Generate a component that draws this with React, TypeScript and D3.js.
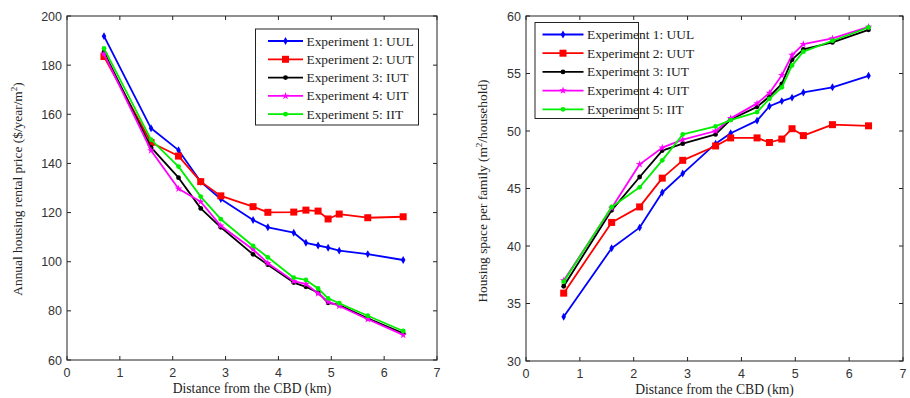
import React from "react";
import * as d3 from "d3";

const distance = [0.7, 1.59, 2.11, 2.53, 2.91, 3.52, 3.8, 4.29, 4.52, 4.75, 4.94, 5.15, 5.69, 6.36];

const seriesNames = [
  "Experiment 1: UUL",
  "Experiment 2: UUT",
  "Experiment 3: IUT",
  "Experiment 4: UIT",
  "Experiment 5: IIT",
];

const rentUUL = [191.8, 154.3, 145.4, 132.5, 125.5, 117.0, 114.0, 111.8, 107.7, 106.6, 105.7, 104.5, 103.1, 100.7];
const rentUUT = [183.5, 148.5, 143.0, 132.6, 126.8, 122.4, 120.1, 120.2, 121.0, 120.6, 117.4, 119.4, 117.9, 118.3];
const rentIUT = [185.3, 146.5, 134.2, 121.7, 114.0, 103.0, 98.8, 91.5, 89.8, 87.4, 83.3, 82.4, 77.0, 70.9];
const rentUIT = [184.6, 145.3, 129.7, 124.4, 114.6, 105.0, 99.4, 92.1, 90.9, 87.1, 83.7, 82.0, 76.6, 70.2];
const rentIIT = [186.8, 149.7, 138.7, 126.5, 117.3, 106.4, 101.8, 93.5, 92.6, 89.1, 85.1, 83.1, 78.0, 71.8];

const spaceUUL = [33.85, 39.8, 41.6, 44.65, 46.3, 48.9, 49.8, 50.9, 52.15, 52.6, 52.9, 53.35, 53.8, 54.8];
const spaceUUT = [35.9, 42.05, 43.4, 45.9, 47.45, 48.7, 49.4, 49.4, 49.0, 49.3, 50.2, 49.6, 50.55, 50.45];
const spaceIUT = [36.5, 43.1, 46.0, 48.3, 48.9, 49.7, 51.0, 52.1, 53.0, 54.1, 56.2, 57.1, 57.7, 58.8];
const spaceUIT = [37.0, 43.3, 47.1, 48.55, 49.25, 50.0, 51.1, 52.4, 53.3, 54.85, 56.6, 57.55, 58.05, 59.05];
const spaceIIT = [36.9, 43.4, 45.1, 47.45, 49.7, 50.4, 50.95, 51.65, 52.8, 53.8, 55.7, 56.9, 57.85, 59.0];

const xTicks = [0, 1, 2, 3, 4, 5, 6, 7];
const rentTicks = [60, 80, 100, 120, 140, 160, 180, 200];
const spaceTicks = [30, 35, 40, 45, 50, 55, 60];

const colors = ["#0000ff", "#ff0000", "#000000", "#ff00ff", "#00ee00"];
const markers = ["diamond", "square", "circle", "star", "circle"];

const TICK_FONT = "Liberation Sans Narrow, Liberation Sans, Arial, sans-serif";
const SERIF = "Liberation Serif, Times New Roman, DejaVu Serif, serif";

function Marker({ kind, x, y, color }: { kind: string; x: number; y: number; color: string }) {
  if (kind === "square") return <rect x={x - 3.5} y={y - 3.5} width={7} height={7} fill={color} />;
  if (kind === "diamond") {
    const p = d3.symbol().type(d3.symbolDiamond).size(18)();
    return <path d={p || ""} transform={`translate(${x},${y})`} fill={color} />;
  }
  if (kind === "star") {
    const p = d3.symbol().type(d3.symbolStar).size(18)();
    return <path d={p || ""} transform={`translate(${x},${y})`} fill={color} />;
  }
  return <circle cx={x} cy={y} r={2.4} fill={color} />;
}

function Panel({
  left, right, top, bottom, yDomain, yTicks, data, legend, yLabel,
}: {
  left: number; right: number; top: number; bottom: number;
  yDomain: [number, number]; yTicks: number[]; data: number[][];
  legend: { x: number; y: number; w: number; h: number; lx1: number; lx2: number; tx: number; row0: number; dy: number };
  yLabel: { x: number; y: number; pre: string; post: string };
}) {
  const x = d3.scaleLinear().domain([0, 7]).range([left, right]);
  const y = d3.scaleLinear().domain(yDomain).range([bottom, top]);
  const line = d3.line<number>().x((_, i) => x(distance[i])).y((v) => y(v));
  const tl = 4;
  return (
    <g>
      <rect x={left} y={top} width={right - left} height={bottom - top} fill="#fff" stroke="none" />
      {data.map((vals, si) => (
        <g key={si}>
          <path d={line(vals) || ""} fill="none" stroke={colors[si]} strokeWidth={1.8} strokeLinejoin="round" />
          {vals.map((v, i) => (
            <Marker key={i} kind={markers[si]} x={x(distance[i])} y={y(v)} color={colors[si]} />
          ))}
        </g>
      ))}
      <rect x={left} y={top} width={right - left} height={bottom - top} fill="none" stroke="#222" strokeWidth={1} />
      {xTicks.map((t) => (
        <g key={"x" + t}>
          <line x1={x(t)} x2={x(t)} y1={bottom} y2={bottom - tl} stroke="#222" />
          <line x1={x(t)} x2={x(t)} y1={top} y2={top + tl} stroke="#222" />
          <text x={x(t)} y={bottom + 17} textAnchor="middle" fontSize={12.5} fontFamily={TICK_FONT} fill="#333">
            {t}
          </text>
        </g>
      ))}
      {yTicks.map((t) => (
        <g key={"y" + t}>
          <line x1={left} x2={left + tl} y1={y(t)} y2={y(t)} stroke="#222" />
          <line x1={right} x2={right - tl} y1={y(t)} y2={y(t)} stroke="#222" />
          <text x={left - 5} y={y(t) + 4.5} textAnchor="end" fontSize={12.5} fontFamily={TICK_FONT} fill="#333">
            {t}
          </text>
        </g>
      ))}
      <text x={(left + right) / 2} y={bottom + 33} textAnchor="middle" fontSize={13.6} style={{ fontFamily: SERIF }} fill="#222">
        Distance from the CBD (km)
      </text>
      <text
        transform={`translate(${yLabel.x},${yLabel.y}) rotate(-90)`}
        textAnchor="middle"
        fontSize={13.4}
        style={{ fontFamily: SERIF }}
        fill="#222"
      >
        {yLabel.pre}
        <tspan dy={-5} fontSize={9}>2</tspan>
        <tspan dy={5}>{yLabel.post}</tspan>
      </text>
      <rect x={legend.x} y={legend.y} width={legend.w} height={legend.h} fill="#fff" stroke="#222" strokeWidth={1} />
      {seriesNames.map((name, i) => {
        const ry = legend.row0 + i * legend.dy;
        return (
          <g key={name}>
            <line x1={legend.lx1} x2={legend.lx2} y1={ry} y2={ry} stroke={colors[i]} strokeWidth={1.8} />
            <Marker kind={markers[i]} x={(legend.lx1 + legend.lx2) / 2} y={ry} color={colors[i]} />
            <text x={legend.tx} y={ry + 4.5} fontSize={13.4} style={{ fontFamily: SERIF }} fill="#222">
              {name}
            </text>
          </g>
        );
      })}
    </g>
  );
}

export default function App() {
  return (
    <svg width={910} height={398} style={{ position: "absolute", left: 0, top: 0, background: "#fff" }}>
      <rect width={910} height={398} fill="#fff" />
      <Panel
        left={67}
        right={437}
        top={16}
        bottom={360}
        yDomain={[60, 200]}
        yTicks={rentTicks}
        data={[rentUUL, rentUUT, rentIUT, rentUIT, rentIIT]}
        legend={{ x: 255.5, y: 29, w: 163, h: 96, lx1: 268, lx2: 303, tx: 306.5, row0: 41, dy: 18.3 }}
        yLabel={{ x: 22, y: 189, pre: "Annual housing rental price ($/year/m", post: ")" }}
      />
      <Panel
        left={526}
        right={903}
        top={16}
        bottom={361}
        yDomain={[30, 60]}
        yTicks={spaceTicks}
        data={[spaceUUL, spaceUUT, spaceIUT, spaceUIT, spaceIIT]}
        legend={{ x: 535, y: 22.5, w: 103.5, h: 96, lx1: 542.5, lx2: 583.5, tx: 587, row0: 34.5, dy: 18.7 }}
        yLabel={{ x: 487, y: 191, pre: "Housing space per family (m", post: "/household)" }}
      />
    </svg>
  );
}
